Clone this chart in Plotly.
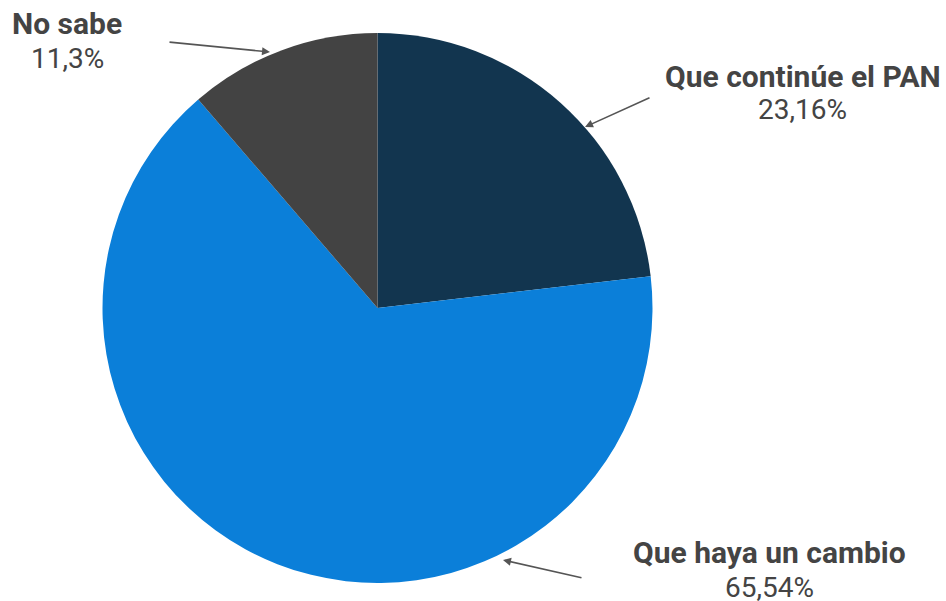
import plotly.graph_objects as go

labels = ["Que continúe el PAN", "Que haya un cambio", "No sabe"]
values = [23.16, 65.54, 11.3]
value_text = ["23,16%", "65,54%", "11,3%"]
colors = ["#12354f", "#0b7fd9", "#434343"]

W, H = 946, 601
cx, cy, r = 377.5, 308, 275

fig = go.Figure(go.Pie(
    labels=labels, values=values, sort=False, direction="clockwise", rotation=0,
    marker=dict(colors=colors, line=dict(width=0)),
    textinfo="none", hoverinfo="label+percent", showlegend=False,
    domain=dict(x=[(cx - r) / W, (cx + r) / W], y=[(H - cy - r) / H, (H - cy + r) / H]),
))

# label line centres (pixels): (x, bold line y, value line y)
label_pos = [(802.5, 75.5, 108.5), (769.5, 551.5, 586), (67, 22.5, 57)]
# arrow (head, tail) in pixels
arrows = [((585, 127), (651, 97)), ((503, 560), (583, 578)), ((270, 52), (168, 42))]

anns = []
for lab, vt, (lx, ly1, ly2), ((hx, hy), (tx, ty)) in zip(labels, value_text, label_pos, arrows):
    anns.append(dict(
        x=lx / W, y=1 - (ly1 + 1) / H, xref="paper", yref="paper", showarrow=False,
        text=f"<b>{lab}</b>", xanchor="center", yanchor="middle",
        font=dict(family="Roboto", size=30, color="#444444"),
    ))
    anns.append(dict(
        x=lx / W, y=1 - (ly2 + 1) / H, xref="paper", yref="paper", showarrow=False,
        text=vt, xanchor="center", yanchor="middle",
        font=dict(family="Roboto", size=28, color="#444444"),
    ))
    anns.append(dict(
        x=hx / W, y=1 - hy / H, xref="paper", yref="paper", text="",
        showarrow=True, ax=tx - hx, ay=ty - hy, axref="pixel", ayref="pixel",
        arrowhead=2, arrowsize=1, arrowwidth=1.6, arrowcolor="#555555", standoff=0, startstandoff=0,
    ))

fig.update_layout(
    width=W, height=H, margin=dict(l=0, r=0, t=0, b=0),
    paper_bgcolor="white", plot_bgcolor="white", annotations=anns,
)
fig.write_html(
    "out.html",
    config={"displayModeBar": False},
    post_script="document.body.style.margin='0';document.body.style.overflow='hidden';",
)
